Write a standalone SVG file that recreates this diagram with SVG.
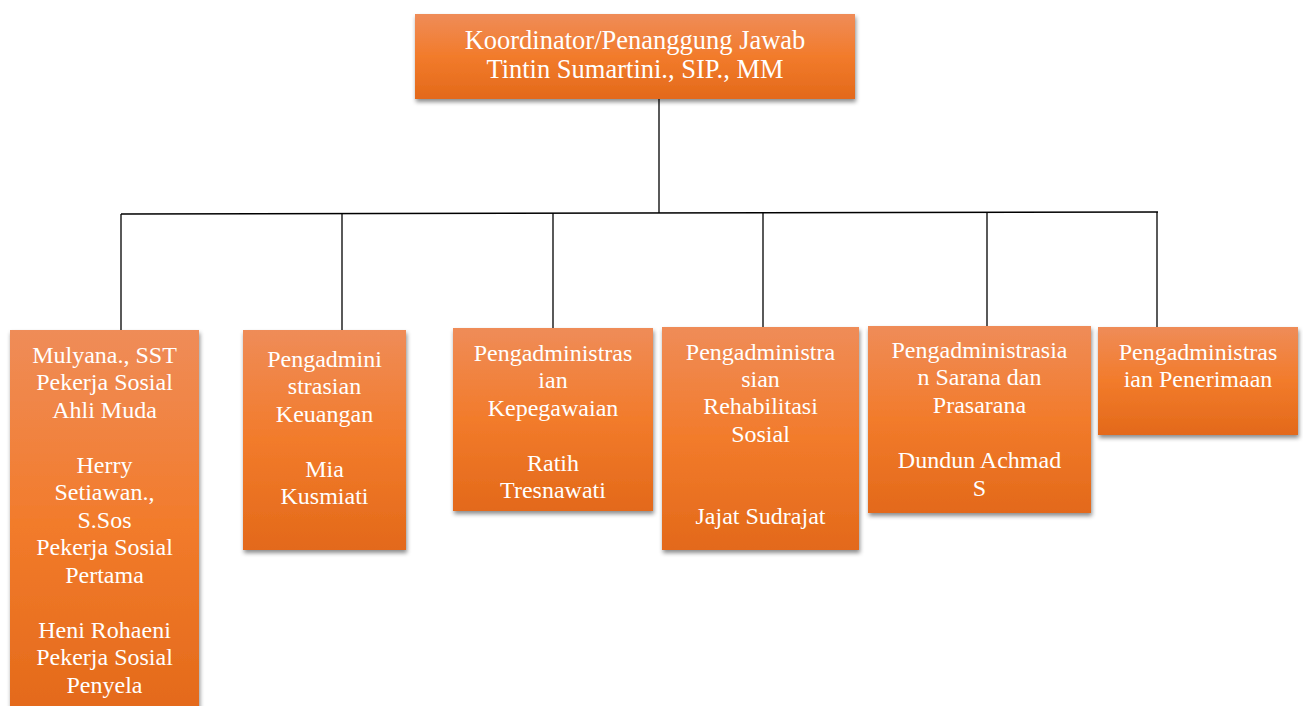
<svg xmlns="http://www.w3.org/2000/svg" width="1303" height="706" viewBox="0 0 1303 706">
<style>
.box{fill:url(#og);filter:url(#sh)}
.t{font-size:24px;fill:#ffffff;text-anchor:middle}
.h{font-size:26.5px}
.c{stroke:#000;stroke-width:1.3;fill:none}
</style>
<defs>
<linearGradient id="og" x1="0" y1="0" x2="0" y2="1">
<stop offset="0" stop-color="#EF8C58"/>
<stop offset="0.5" stop-color="#F27B2B"/>
<stop offset="1" stop-color="#E3691A"/>
</linearGradient>
<filter id="sh" x="-10%" y="-10%" width="125%" height="125%">
<feDropShadow dx="1" dy="3" stdDeviation="2.2" flood-color="#000" flood-opacity="0.45"/>
</filter>
</defs>
<rect width="1303" height="706" fill="#fff"/>
<g id="connectors">
<path class="c" d="M659 99V213"/>
<path class="c" d="M121 214L1158 212"/>
<path class="c" d="M121 214V330"/>
<path class="c" d="M342 214V330"/>
<path class="c" d="M553 213V328"/>
<path class="c" d="M763 213V327"/>
<path class="c" d="M987 212V326"/>
<path class="c" d="M1157 212V327"/>
</g>
<g font-family="Liberation Serif">
<g id="n0">
<rect class="box" x="415" y="14" width="440" height="85"/>
<text class="t h" x="635" y="49">Koordinator/Penanggung Jawab</text>
<text class="t h" x="635" y="78">Tintin Sumartini., SIP., MM</text>
</g>
<g id="n1">
<rect class="box" x="10" y="330" width="189" height="390"/>
<text class="t" x="104.5" y="363">Mulyana., SST</text>
<text class="t" x="104.5" y="390">Pekerja Sosial</text>
<text class="t" x="104.5" y="418">Ahli Muda</text>
<text class="t" x="104.5" y="473">Herry</text>
<text class="t" x="104.5" y="500">Setiawan.,</text>
<text class="t" x="104.5" y="528">S.Sos</text>
<text class="t" x="104.5" y="555">Pekerja Sosial</text>
<text class="t" x="104.5" y="583">Pertama</text>
<text class="t" x="104.5" y="638">Heni Rohaeni</text>
<text class="t" x="104.5" y="665">Pekerja Sosial</text>
<text class="t" x="104.5" y="693">Penyela</text>
</g>
<g id="n2">
<rect class="box" x="243" y="330" width="163" height="220"/>
<text class="t" x="324.5" y="367">Pengadmini</text>
<text class="t" x="324.5" y="394">strasian</text>
<text class="t" x="324.5" y="422">Keuangan</text>
<text class="t" x="324.5" y="477">Mia</text>
<text class="t" x="324.5" y="504">Kusmiati</text>
</g>
<g id="n3">
<rect class="box" x="453" y="328" width="200" height="183"/>
<text class="t" x="553" y="361">Pengadministras</text>
<text class="t" x="553" y="388">ian</text>
<text class="t" x="553" y="416">Kepegawaian</text>
<text class="t" x="553" y="471">Ratih</text>
<text class="t" x="553" y="498">Tresnawati</text>
</g>
<g id="n4">
<rect class="box" x="662" y="327" width="197" height="223"/>
<text class="t" x="760.5" y="360">Pengadministra</text>
<text class="t" x="760.5" y="387">sian</text>
<text class="t" x="760.5" y="414">Rehabilitasi</text>
<text class="t" x="760.5" y="442">Sosial</text>
<text class="t" x="760.5" y="524">Jajat Sudrajat</text>
</g>
<g id="n5">
<rect class="box" x="868" y="326" width="223" height="187"/>
<text class="t" x="979.5" y="358">Pengadministrasia</text>
<text class="t" x="979.5" y="385">n Sarana dan</text>
<text class="t" x="979.5" y="413">Prasarana</text>
<text class="t" x="979.5" y="468">Dundun Achmad</text>
<text class="t" x="979.5" y="496">S</text>
</g>
<g id="n6">
<rect class="box" x="1098" y="327" width="200" height="108"/>
<text class="t" x="1198" y="360">Pengadministras</text>
<text class="t" x="1198" y="387">ian Penerimaan</text>
</g>
</g>
</svg>
